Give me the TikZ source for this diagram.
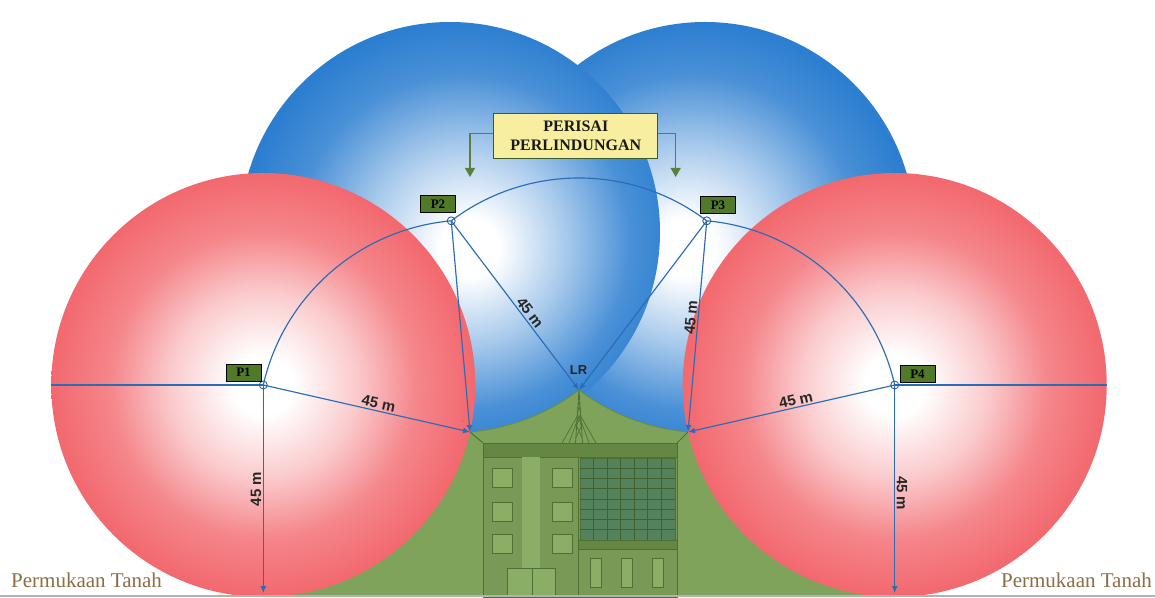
\documentclass[tikz,border=0pt]{standalone}
\usepackage{fontspec}
\setmainfont{Liberation Serif}
\setsansfont{Liberation Sans}
\usetikzlibrary{arrows.meta}

\definecolor{redc}{RGB}{242,104,110}
\definecolor{bluec}{RGB}{44,126,208}
\definecolor{hillc}{RGB}{128,163,92}
\definecolor{hilledgec}{RGB}{104,142,72}
\definecolor{bodyc}{RGB}{120,154,86}
\definecolor{darkc}{RGB}{78,112,52}
\definecolor{roofc}{RGB}{100,136,68}
\definecolor{lightc}{RGB}{138,174,102}
\definecolor{glassc}{RGB}{84,130,92}
\definecolor{linec}{RGB}{42,108,182}
\definecolor{tagc}{RGB}{80,122,40}
\definecolor{notec}{RGB}{248,238,160}
\definecolor{arrowc}{RGB}{92,128,60}
\definecolor{soilc}{RGB}{140,110,70}

% sphere shadings: white core fading to the sphere colour at the rim (rim = 25bp)
\pgfdeclareradialshading{redball}{\pgfpoint{0bp}{0bp}}{color(0bp)=(white); color(3.5bp)=(white); color(11bp)=(redc!35!white); color(18bp)=(redc!80!white); color(25bp)=(redc); color(50bp)=(redc)}
\pgfdeclareradialshading{blueballL}{\pgfpoint{2.5bp}{-2bp}}{color(0bp)=(white); color(3.5bp)=(white); color(12bp)=(bluec!42!white); color(20bp)=(bluec!86!white); color(26bp)=(bluec); color(50bp)=(bluec)}
\pgfdeclareradialshading{blueballR}{\pgfpoint{-2.5bp}{-2bp}}{color(0bp)=(white); color(3.5bp)=(white); color(12bp)=(bluec!42!white); color(20bp)=(bluec!86!white); color(26bp)=(bluec); color(50bp)=(bluec)}

\begin{document}
\begin{tikzpicture}[x=1pt,y=1pt,
  conn/.style={draw=linec, line width=1.15pt},
  tip/.style={-{Latex[length=7pt,width=6pt]}},
  dist/.style={font=\sffamily\bfseries\fontsize{15}{15}\selectfont, text=black!85, inner sep=1.5pt},
  ptag/.style={draw=black, line width=0.7pt, fill=tagc, minimum width=35pt, minimum height=17pt, inner sep=0pt, font=\bfseries\fontsize{13}{13}\selectfont},
  pmark/.style={circle, draw=linec!80!black, line width=0.8pt, minimum size=8pt, inner sep=0pt},
  wall/.style={draw=darkc, line width=1pt},
  gridline/.style={draw=darkc!85!black, line width=0.8pt},
  notebox/.style={draw=darkc!80!black, line width=1.3pt, fill=notec, minimum width=164pt, minimum height=45pt, align=center, inner sep=2pt, text=black!90, font=\bfseries\fontsize{16}{19}\selectfont},
  garrow/.style={draw=arrowc, line width=1.2pt, -{Triangle[length=9pt,width=10pt]}},
  soil/.style={text=soilc, inner sep=0pt, font=\fontsize{21}{21}\selectfont}
]
\useasboundingbox (0,0) rectangle (1155,597);
\fill[white] (0,0) rectangle (1155,597);

% key points (45 m = 212 units)
\coordinate (p1) at (263.28,212);
\coordinate (p2) at (451.22,376.17);
\coordinate (p3) at (706.78,376.17);
\coordinate (p4) at (894.72,212);
\coordinate (cl) at (470,165);
\coordinate (lr) at (579,207);
\coordinate (cr) at (688,165);
\coordinate (g1) at (263.28,4);
\coordinate (g4) at (894.72,4);
\coordinate (e1) at (51.3,212);
\coordinate (e4) at (1106.7,212);

% blue spheres
\shade[shading=blueballR] (705,365) circle[radius=210];
\shade[shading=blueballL] (450,365) circle[radius=210];

% green mound under the spheres
\fill[hillc] (263.28,0) -- (cl) arc[start angle=-84.92, end angle=-52.93, radius=212]
  arc[start angle=-127.07, end angle=-95.08, radius=212] -- (894.72,0) -- cycle;
\draw[hilledgec, line width=0.9pt] (cl) arc[start angle=-84.92, end angle=-52.93, radius=212]
  arc[start angle=-127.07, end angle=-95.08, radius=212];

% building
\draw[wall] (cl) -- (483,154);
\draw[wall] (cr) -- (677,154);
\filldraw[wall, fill=bodyc] (483,0) rectangle (677,154);
\filldraw[wall, fill=roofc] (483,140) rectangle (677,154);
\draw[wall] (578,0) -- (578,140);
\fill[lightc] (522,29) rectangle (540,140);
\foreach \x in {492,552}
  \foreach \y in {110,76,44}
    \filldraw[wall, fill=lightc] (\x,\y) rectangle ++(20,19);
\filldraw[wall, fill=lightc] (507,0) rectangle (532.7,29);
\filldraw[wall, fill=lightc] (532.7,0) rectangle (555,29);
\filldraw[wall, fill=glassc] (580,57) rectangle (675,139);
\foreach \i in {1,...,6}
  \draw[gridline] ({580+\i*95/7},57) -- ++(0,82);
\foreach \j in {1,...,7}
  \draw[gridline] (580,{57+\j*82/8}) -- ++(95,0);
\filldraw[wall, fill=roofc] (578,48) rectangle (677,57);
\foreach \x in {590,621,652}
  \filldraw[wall, fill=lightc] (\x,10) rectangle ++(11,29);

% lightning rod mast
\draw[darkc, line width=0.8pt] (lr) -- (575.5,154) (lr) -- (582.5,154);
\draw[darkc, line width=0.6pt] (578.2,195) -- (580.6,183) -- (576.6,171) -- (582.2,159)
  (579.8,195) -- (577.4,183) -- (581.4,171) -- (575.8,159);
\draw[darkc, line width=0.7pt] (578,182) -- (562,154) (578.5,180) -- (569,154)
  (579.5,180) -- (589,154) (580,182) -- (596,154);

% red spheres
\shade[shading=redball] (p1) circle[radius=212];
\shade[shading=redball] (p4) circle[radius=212];

% radii and sphere-centre path
\draw[conn] (e1) -- (p1);
\draw[conn] (p4) -- (e4);
\draw[conn] (p1) arc[start angle=167.19, end angle=95.08, radius=212]
  arc[start angle=127.07, end angle=52.93, radius=212]
  arc[start angle=84.92, end angle=12.81, radius=212];
\draw[conn, tip] (p1) -- (g1) node[dist, pos=0.5, rotate=90, above] {45 m};
\draw[conn, tip] (p1) -- (cl) node[dist, pos=0.55, sloped, above] {45 m};
\draw[conn, tip] (p2) -- (cl);
\draw[conn, tip] (p2) -- (lr) node[dist, pos=0.57, sloped, above] {45 m};
\draw[conn, tip] (p3) -- (lr);
\draw[conn, tip] (p3) -- (cr) node[dist, pos=0.46, sloped, above] {45 m};
\draw[conn, tip] (p4) -- (cr) node[dist, pos=0.47, sloped, above] {45 m};
\draw[conn, tip] (p4) -- (g4) node[dist, pos=0.52, rotate=-90, above] {45 m};

% point markers and tags
\node[pmark] (m1) at (p1) {};
\node[pmark] (m2) at (p2) {};
\node[pmark] (m3) at (p3) {};
\node[pmark] (m4) at (p4) {};
\node[ptag] (t1) at (243.5,224.5) {P1};
\node[ptag] (t2) at (438,393) {P2};
\node[ptag] (t3) at (718,392) {P3};
\node[ptag] (t4) at (917.5,223) {P4};
\node[font=\sffamily\bfseries\fontsize{13}{13}\selectfont, text=black!85, inner sep=0pt] (lrlab) at (578.5,227) {LR};

% shield caption
\node[notebox] (nb) at (575.8,460.8) {PERISAI\\PERLINDUNGAN};
\coordinate (al) at (470,420);
\coordinate (ar) at (675.7,420);
\draw[garrow] ([yshift=3pt]nb.west) -| (al);
\draw[garrow] ([yshift=3pt]nb.east) -| (ar);

% ground
\draw[black!30, line width=1.2pt] (0,1) -- (1155,1);
\node[soil, anchor=base west] (gl) at (11,10) {Permukaan Tanah};
\node[soil, anchor=base east] (gr) at (1152,10) {Permukaan Tanah};
\end{tikzpicture}
\end{document}
